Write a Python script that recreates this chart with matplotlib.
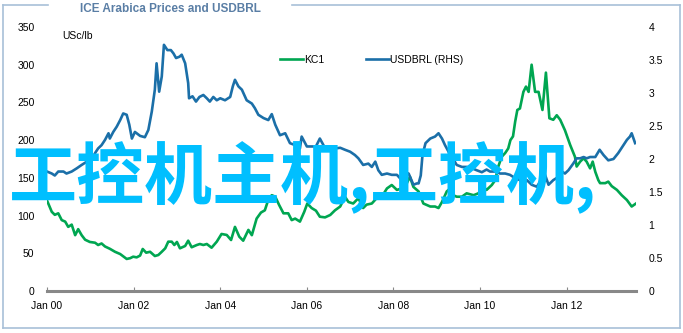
import matplotlib
matplotlib.use('Agg')
import matplotlib.pyplot as plt
from matplotlib.lines import Line2D

# years since Jan 2000 and values
kc1_t = [0.00, 0.11, 0.18, 0.26, 0.34, 0.42, 0.49, 0.57, 0.65, 0.72, 0.80, 0.88, 0.99, 1.11, 1.18, 1.26,
         1.34, 1.45, 1.57, 1.69, 1.76, 1.84, 1.92, 1.99, 2.07, 2.15, 2.21, 2.29, 2.38, 2.49, 2.57, 2.65,
         2.73, 2.80, 2.88, 2.94, 3.00, 3.07, 3.19, 3.26, 3.34, 3.46, 3.53, 3.61, 3.69, 3.80, 3.92, 4.03,
         4.15, 4.25, 4.34, 4.44, 4.53, 4.65, 4.73, 4.84, 4.94, 5.03, 5.11, 5.19, 5.27, 5.36, 5.46, 5.57,
         5.65, 5.73, 5.84, 5.94, 6.01, 6.11, 6.21, 6.30, 6.42, 6.54, 6.65, 6.77, 6.88, 6.96, 7.07, 7.19,
         7.30, 7.38, 7.50, 7.61, 7.73, 7.85, 7.96, 8.08, 8.19, 8.31, 8.38, 8.46, 8.58, 8.69, 8.77, 8.85,
         8.96, 9.04, 9.12, 9.23, 9.31, 9.38, 9.46, 9.58, 9.69, 9.85, 9.96, 10.08, 10.15, 10.27, 10.35,
         10.42, 10.50, 10.58, 10.65, 10.70, 10.76, 10.81, 10.86, 10.92, 11.00, 11.06, 11.12, 11.19, 11.27,
         11.35, 11.44, 11.52, 11.60, 11.69, 11.77, 11.85, 11.96, 12.08, 12.19, 12.23, 12.31, 12.39, 12.46,
         12.54, 12.60, 12.66, 12.73, 12.77, 12.89, 12.96, 13.04, 13.16, 13.27, 13.39, 13.50, 13.60]
kc1_v = [120, 105, 101, 103, 94, 92, 85, 88, 74, 82, 74, 68, 65, 64, 61, 63,
         59, 56, 52, 49, 46, 42.5, 43.5, 45.5, 44.6, 47, 55.7, 50.8, 52, 46.4, 47.7, 52,
         56.6, 65.4, 65.4, 61, 65, 56.6, 59.7, 66.7, 58, 61, 62.3, 61, 62.3, 57.4, 65.4, 75.6,
         74.3, 67.6, 85, 72, 66.7, 81, 74, 96, 104, 107, 121, 127, 125, 114, 103, 103,
         94, 96, 92, 105, 116, 110, 106.5, 98.5, 97.6, 100.8, 107, 112, 125, 118, 116, 123,
         110, 114.5, 116, 123, 125, 136, 140.5, 134, 136, 143, 151.5, 138, 132, 116, 114, 112,
         112, 110, 118, 132, 136, 127, 125, 125, 129.5, 127, 129.5, 138, 134, 140.5, 147,
         165, 178, 183, 189, 200, 205, 224.5, 240, 242, 264, 271, 264, 300, 264,
         264, 240, 289.5, 229, 227, 233, 227, 213, 193.6, 178, 165, 171.5, 176, 171.5,
         162.6, 171.5, 158, 147, 143, 143, 145, 139, 134, 127, 120.6, 112, 116]

brl_t = [0.00, 0.11, 0.18, 0.26, 0.38, 0.45, 0.57, 0.69, 0.80, 0.92, 1.03, 1.11, 1.18, 1.26, 1.34, 1.42,
         1.45, 1.53, 1.61, 1.69, 1.76, 1.84, 1.90, 1.96, 2.03, 2.15, 2.26, 2.34, 2.42, 2.49, 2.53, 2.59,
         2.65, 2.70, 2.78, 2.86, 2.92, 2.98, 3.06, 3.11, 3.19, 3.26, 3.28, 3.36, 3.44, 3.52, 3.61, 3.69,
         3.76, 3.84, 3.92, 4.00, 4.11, 4.23, 4.29, 4.34, 4.42, 4.50, 4.61, 4.73, 4.80, 4.88, 5.00, 5.11,
         5.19, 5.27, 5.38, 5.50, 5.61, 5.73, 5.84, 5.88, 6.00, 6.11, 6.21, 6.30, 6.40, 6.54, 6.65, 6.77,
         6.88, 7.00, 7.11, 7.19, 7.30, 7.42, 7.50, 7.58, 7.65, 7.73, 7.85, 7.96, 8.08, 8.19, 8.23, 8.35,
         8.46, 8.54, 8.58, 8.63, 8.67, 8.74, 8.85, 8.96, 9.04, 9.12, 9.19, 9.28, 9.38, 9.46, 9.58, 9.69,
         9.81, 9.92, 10.04, 10.15, 10.23, 10.35, 10.46, 10.58, 10.69, 10.81, 10.92, 11.00, 11.08, 11.19,
         11.31, 11.39, 11.50, 11.58, 11.69, 11.81, 11.89, 11.96, 12.04, 12.15, 12.23, 12.31, 12.39, 12.46,
         12.54, 12.66, 12.76, 12.85, 12.96, 13.08, 13.19, 13.31, 13.39, 13.46, 13.50, 13.58]
brl_v = [1.81, 1.78, 1.75, 1.81, 1.81, 1.78, 1.81, 1.86, 1.91, 1.96, 1.98, 2.09, 2.16, 2.21, 2.29, 2.39,
         2.31, 2.41, 2.49, 2.59, 2.69, 2.67, 2.52, 2.31, 2.41, 2.35, 2.33, 2.44, 2.72, 3.05, 3.45, 3.02,
         3.25, 3.73, 3.65, 3.65, 3.60, 3.53, 3.55, 3.58, 3.45, 3.15, 2.92, 2.95, 2.87, 2.94, 2.97, 2.92,
         2.87, 2.94, 2.89, 2.92, 2.89, 2.94, 3.10, 3.20, 3.10, 3.05, 2.89, 2.84, 2.77, 2.67, 2.62, 2.59,
         2.68, 2.52, 2.36, 2.39, 2.24, 2.21, 2.16, 2.34, 2.19, 2.19, 2.19, 2.31, 2.19, 2.16, 2.16, 2.17,
         2.14, 2.11, 2.06, 2.01, 1.91, 1.93, 1.88, 1.96, 1.83, 1.76, 1.78, 1.76, 1.76, 1.68, 1.81, 1.78,
         1.61, 1.63, 1.63, 1.75, 2.06, 2.24, 2.31, 2.34, 2.39, 2.31, 2.21, 2.10, 2.00, 1.91, 1.88, 1.88,
         1.86, 1.83, 1.80, 1.84, 1.81, 1.81, 1.78, 1.78, 1.76, 1.71, 1.68, 1.63, 1.68, 1.61,
         1.58, 1.66, 1.76, 1.61, 1.68, 1.73, 1.81, 1.78, 1.83, 1.93, 2.01, 2.01, 2.03, 2.01,
         2.03, 2.03, 2.14, 2.06, 1.98, 2.00, 2.09, 2.21, 2.29, 2.34, 2.39, 2.24]

x_ticks = [0, 2, 4, 6, 8, 10, 12]
x_labels = ['Jan 00', 'Jan 02', 'Jan 04', 'Jan 06', 'Jan 08', 'Jan 10', 'Jan 12']
left_ticks = [0, 50, 100, 150, 200, 250, 300, 350]
right_ticks = [0, 0.5, 1, 1.5, 2, 2.5, 3, 3.5, 4]

plt.rcParams['font.family'] = ['Liberation Sans', 'DejaVu Sans']

green = '#00A651'
blue = '#1B6FA8'
frame_col = '#A8C0D8'

fig = plt.figure(figsize=(6.83, 3.33), dpi=100)
ax = fig.add_axes([47 / 683, 1 - 291 / 333, 589 / 683, 264 / 333])
ax2 = ax.twinx()

l1, = ax.plot(kc1_t, kc1_v, color=green, lw=1.9, label='KC1')
l2, = ax2.plot(brl_t, brl_v, color=blue, lw=1.9, label='USDBRL (RHS)')

ax.set_xlim(0, 13.6)
ax.set_ylim(0, 350)
ax2.set_ylim(0, 4)
ax.set_yticks(left_ticks)
ax.set_yticklabels([str(v) for v in left_ticks])
ax2.set_yticks(right_ticks)
ax2.set_yticklabels(['0', '0.5', '1', '1.5', '2', '2.5', '3', '3.5', '4'])
ax.set_xticks(x_ticks)
ax.set_xticklabels(x_labels)

for a in (ax, ax2):
    for s in a.spines.values():
        s.set_visible(False)
ax.spines['bottom'].set_visible(True)
ax.spines['bottom'].set_color('#888888')
ax.spines['bottom'].set_linewidth(2.2)
ax.tick_params(axis='x', direction='in', length=3, color='#888888', labelsize=7.5, pad=7)
ax.tick_params(axis='y', length=0, labelsize=7.5, pad=9)
ax2.tick_params(axis='y', length=0, labelsize=7.5, pad=9)

ax.text(62 / 683, 1 - 36 / 333, 'USc/lb', transform=fig.transFigure, fontsize=7.5, va='center')

ax.legend(handles=[l1, l2], ncol=2, frameon=False, fontsize=7.5, loc='center',
          bbox_to_anchor=(372 / 683, 1 - 60 / 333), bbox_transform=fig.transFigure,
          handlelength=2.2, handletextpad=0.1, columnspacing=4)

# frame around the chart, with a gap for the title
def fx(px):
    return px / 683

def fy(py):
    return 1 - py / 333

frame = [((3, 5), (3, 328)), ((3, 328), (680, 328)), ((680, 328), (680, 5)),
         ((680, 5), (292, 5)), ((48, 5), (3, 5))]
for (xa, ya), (xb, yb) in frame:
    fig.add_artist(Line2D([fx(xa), fx(xb)], [fy(ya), fy(yb)], color=frame_col, lw=1.2))

fig.text(fx(170), fy(9), 'ICE Arabica Prices and USDBRL', fontsize=8.5, fontweight='bold',
         color='#5A7EA5', ha='center', va='center')

fig.text(fx(9), fy(178), '工控机主机,工控机,', fontsize=49, fontweight='bold', color='#00BFFF',
         ha='left', va='center', family=['Noto Sans CJK SC', 'DejaVu Sans'])

fig.savefig('out.png', dpi=100)
